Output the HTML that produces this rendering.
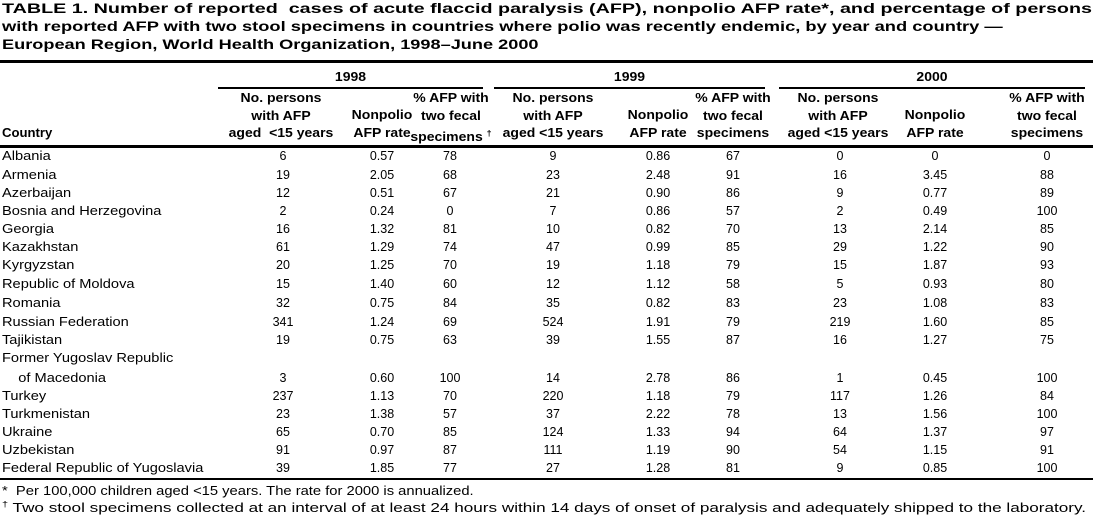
<!DOCTYPE html>
<html><head><meta charset="utf-8"><style>
body{margin:0;background:#fff;width:1093px;height:513px;position:relative;overflow:hidden;font-family:"Liberation Sans",Arial,sans-serif;color:#000}
.t{position:absolute;left:2px;font-weight:bold;font-size:14.2px;line-height:18px;white-space:nowrap;transform-origin:0 0}
.r{position:absolute;left:0;width:1093px;height:18px;font-size:12.5px;line-height:18px}
.r div{position:absolute;top:0;width:80px;text-align:center}
.r .n{left:2px;width:400px;text-align:left;transform:scaleX(1.17);transform-origin:0 0}
.c1{left:243px}.c2{left:342px}.c3{left:410px}.c4{left:513px}.c5{left:618px}.c6{left:693px}.c7{left:800px}.c8{left:895px}.c9{left:1007px}
.h{position:absolute;font-weight:bold;font-size:12.5px;line-height:17.5px;text-align:center;white-space:nowrap;transform:scaleX(1.12)}
.line{position:absolute;background:#000}
.f{position:absolute;left:2px;font-size:12.5px;white-space:nowrap;line-height:14px;transform-origin:0 0}
</style></head><body>
<div class="t" style="top:0;transform:scaleX(1.39)">TABLE 1. Number of reported&nbsp; cases of acute flaccid paralysis (AFP), nonpolio AFP rate*, and percentage of persons</div>
<div class="t" style="top:18px;transform:scaleX(1.29)">with reported AFP with two stool specimens in countries where polio was recently endemic, by year and country —</div>
<div class="t" style="top:36px;transform:scaleX(1.28)">European Region, World Health Organization, 1998–June 2000</div>
<div class="line" style="left:0;top:60px;width:1093px;height:3px"></div>
<div class="h" style="left:218px;width:265px;top:69px">1998</div>
<div class="h" style="left:494px;width:271px;top:69px">1999</div>
<div class="h" style="left:779px;width:306px;top:69px">2000</div>
<div class="line" style="left:218px;top:87px;width:265px;height:2px"></div>
<div class="line" style="left:494px;top:87px;width:271px;height:2px"></div>
<div class="line" style="left:779px;top:87px;width:306px;height:2px"></div>
<div class="h" style="left:2px;top:125px;text-align:left;transform-origin:0 0;transform:scaleX(1.05)">Country</div>
<div class="h" style="left:221px;width:120px;top:90px">No. persons<br>with AFP<br>aged&nbsp; &lt;15 years</div>
<div class="h" style="left:342px;width:80px;top:107px">Nonpolio<br>AFP rate</div>
<div class="h" style="left:401px;width:100px;top:90px">% AFP with<br>two fecal<br>specimens <sup style="font-size:8px">†</sup></div>
<div class="h" style="left:493px;width:120px;top:90px">No. persons<br>with AFP<br>aged &lt;15 years</div>
<div class="h" style="left:618px;width:80px;top:107px">Nonpolio<br>AFP rate</div>
<div class="h" style="left:693px;width:80px;top:90px">% AFP with<br>two fecal<br>specimens</div>
<div class="h" style="left:778px;width:120px;top:90px">No. persons<br>with AFP<br>aged &lt;15 years</div>
<div class="h" style="left:895px;width:80px;top:107px">Nonpolio<br>AFP rate</div>
<div class="h" style="left:1000px;width:94px;top:90px">% AFP with<br>two fecal<br>specimens</div>
<div class="line" style="left:0;top:145px;width:1093px;height:3px"></div>

<div class="r" style="top:147px"><div class="n">Albania</div><div class="c1">6</div><div class="c2">0.57</div><div class="c3">78</div><div class="c4">9</div><div class="c5">0.86</div><div class="c6">67</div><div class="c7">0</div><div class="c8">0</div><div class="c9">0</div></div>
<div class="r" style="top:166px"><div class="n">Armenia</div><div class="c1">19</div><div class="c2">2.05</div><div class="c3">68</div><div class="c4">23</div><div class="c5">2.48</div><div class="c6">91</div><div class="c7">16</div><div class="c8">3.45</div><div class="c9">88</div></div>
<div class="r" style="top:184px"><div class="n">Azerbaijan</div><div class="c1">12</div><div class="c2">0.51</div><div class="c3">67</div><div class="c4">21</div><div class="c5">0.90</div><div class="c6">86</div><div class="c7">9</div><div class="c8">0.77</div><div class="c9">89</div></div>
<div class="r" style="top:202px"><div class="n">Bosnia and Herzegovina</div><div class="c1">2</div><div class="c2">0.24</div><div class="c3">0</div><div class="c4">7</div><div class="c5">0.86</div><div class="c6">57</div><div class="c7">2</div><div class="c8">0.49</div><div class="c9">100</div></div>
<div class="r" style="top:220px"><div class="n">Georgia</div><div class="c1">16</div><div class="c2">1.32</div><div class="c3">81</div><div class="c4">10</div><div class="c5">0.82</div><div class="c6">70</div><div class="c7">13</div><div class="c8">2.14</div><div class="c9">85</div></div>
<div class="r" style="top:238px"><div class="n">Kazakhstan</div><div class="c1">61</div><div class="c2">1.29</div><div class="c3">74</div><div class="c4">47</div><div class="c5">0.99</div><div class="c6">85</div><div class="c7">29</div><div class="c8">1.22</div><div class="c9">90</div></div>
<div class="r" style="top:256px"><div class="n">Kyrgyzstan</div><div class="c1">20</div><div class="c2">1.25</div><div class="c3">70</div><div class="c4">19</div><div class="c5">1.18</div><div class="c6">79</div><div class="c7">15</div><div class="c8">1.87</div><div class="c9">93</div></div>
<div class="r" style="top:275px"><div class="n">Republic of Moldova</div><div class="c1">15</div><div class="c2">1.40</div><div class="c3">60</div><div class="c4">12</div><div class="c5">1.12</div><div class="c6">58</div><div class="c7">5</div><div class="c8">0.93</div><div class="c9">80</div></div>
<div class="r" style="top:294px"><div class="n">Romania</div><div class="c1">32</div><div class="c2">0.75</div><div class="c3">84</div><div class="c4">35</div><div class="c5">0.82</div><div class="c6">83</div><div class="c7">23</div><div class="c8">1.08</div><div class="c9">83</div></div>
<div class="r" style="top:313px"><div class="n">Russian Federation</div><div class="c1">341</div><div class="c2">1.24</div><div class="c3">69</div><div class="c4">524</div><div class="c5">1.91</div><div class="c6">79</div><div class="c7">219</div><div class="c8">1.60</div><div class="c9">85</div></div>
<div class="r" style="top:331px"><div class="n">Tajikistan</div><div class="c1">19</div><div class="c2">0.75</div><div class="c3">63</div><div class="c4">39</div><div class="c5">1.55</div><div class="c6">87</div><div class="c7">16</div><div class="c8">1.27</div><div class="c9">75</div></div>
<div class="r" style="top:349px"><div class="n">Former Yugoslav Republic</div></div>
<div class="r" style="top:369px"><div class="n">&nbsp;&nbsp;&nbsp;&nbsp;of Macedonia</div><div class="c1">3</div><div class="c2">0.60</div><div class="c3">100</div><div class="c4">14</div><div class="c5">2.78</div><div class="c6">86</div><div class="c7">1</div><div class="c8">0.45</div><div class="c9">100</div></div>
<div class="r" style="top:387px"><div class="n">Turkey</div><div class="c1">237</div><div class="c2">1.13</div><div class="c3">70</div><div class="c4">220</div><div class="c5">1.18</div><div class="c6">79</div><div class="c7">117</div><div class="c8">1.26</div><div class="c9">84</div></div>
<div class="r" style="top:405px"><div class="n">Turkmenistan</div><div class="c1">23</div><div class="c2">1.38</div><div class="c3">57</div><div class="c4">37</div><div class="c5">2.22</div><div class="c6">78</div><div class="c7">13</div><div class="c8">1.56</div><div class="c9">100</div></div>
<div class="r" style="top:423px"><div class="n">Ukraine</div><div class="c1">65</div><div class="c2">0.70</div><div class="c3">85</div><div class="c4">124</div><div class="c5">1.33</div><div class="c6">94</div><div class="c7">64</div><div class="c8">1.37</div><div class="c9">97</div></div>
<div class="r" style="top:441px"><div class="n">Uzbekistan</div><div class="c1">91</div><div class="c2">0.97</div><div class="c3">87</div><div class="c4">111</div><div class="c5">1.19</div><div class="c6">90</div><div class="c7">54</div><div class="c8">1.15</div><div class="c9">91</div></div>
<div class="r" style="top:459px"><div class="n">Federal Republic of Yugoslavia</div><div class="c1">39</div><div class="c2">1.85</div><div class="c3">77</div><div class="c4">27</div><div class="c5">1.28</div><div class="c6">81</div><div class="c7">9</div><div class="c8">0.85</div><div class="c9">100</div></div>
<div class="line" style="left:0;top:478px;width:1093px;height:2px"></div>
<div class="f" style="top:484px;transform:scaleX(1.18)">*&nbsp; Per 100,000 children aged &lt;15 years. The rate for 2000 is annualized.</div>
<div class="f" style="top:498px;transform:scaleX(1.37)"><sup style="font-size:8px">†</sup> Two stool specimens collected at an interval of at least 24 hours within 14 days of onset of paralysis and adequately shipped to the laboratory.</div>
</body></html>
